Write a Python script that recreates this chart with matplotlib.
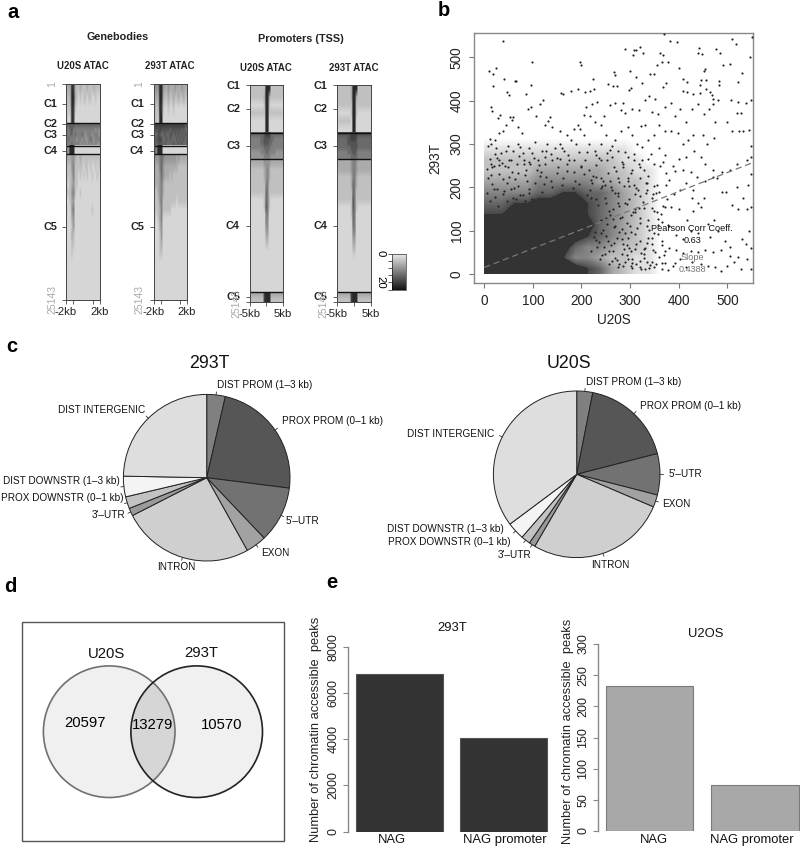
import numpy as np
import matplotlib
matplotlib.use("Agg")
import matplotlib.pyplot as plt
from matplotlib.colors import LinearSegmentedColormap, Normalize
from matplotlib.cm import ScalarMappable
from matplotlib.patches import Circle, Rectangle

plt.rcParams['font.family'] = ['Liberation Sans', 'DejaVu Sans']

W, H = 800, 851

# ---- panel a: ATAC signal, one digit per bin (digit x 2.5 = signal)
gene_row_edges = [1, 1100, 2300, 3500, 4579, 5100, 5600, 6100, 6600, 7217, 7700, 8187,
                  9200, 10200, 11200, 12200, 13200, 14200, 15200, 16200, 17200, 18200,
                  19200, 20200, 21200, 22200, 23200, 24200, 25143]
gene_u20s = ["33398322322232223222", "32399321212212211211", "22298211111111111111", "21198111111111111111",
             "76767666666666666666", "65675555555555555454", "65665655565455545554", "56555545545445654555",
             "55565555454545454544", "54999111111111111111", "54999111111111111111",
             "33344322322222222222", "22245222221221211212", "22235221212121121121", "21234221111111111111",
             "22245211211111111111", "11234111111111111111", "21145111111111121111", "11134111111111111111",
             "11124111111111111111", "11132111111111111111", "11122111111111111111", "11121111111111111111",
             "11111111111111111111", "11111111111111111111", "11111111111111111111", "11111111111111111111",
             "11111111111111111111"]
gene_293t = ["44499433433343334333", "33399322322322322322", "32298211211211111111", "22199111111111111111",
             "88888888888888888877", "77787777767777776766", "66776676677676767676", "67787667676667676766",
             "76777676666766767667", "65999111111111111111", "65999111111111111111",
             "44456544444443433333", "33356433333333222222", "33346433323222222222", "33345322222222222222",
             "22345322222222222222", "22245222222221222222", "22235222221111111111", "21235111111111111111",
             "11134111111111111111", "11124111111111111111", "11123111111111111111", "11122111111111111111",
             "11111111111111111111", "11111111111111111111", "11111111111111111111", "11111111111111111111",
             "11111111111111111111"]

prom_row_edges = [1, 916, 1832, 2748, 3664, 4580, 5493, 6010, 6525, 7040, 7555, 8070, 8587,
                  9445, 10300, 11160, 12015, 12870, 13730, 14590, 15445, 16300, 17160, 18015,
                  18870, 19730, 20590, 21445, 22300, 23160, 24021, 24580, 25143]
prom_u20s = ["22222222299922222222", "22222222399322222222", "11111111299211111111", "22222222299222222222",
             "11111111199111111111", "11111111199111111111",
             "66666666788866666666", "55555566777766555555", "55555566777665555555", "55555555666655555555",
             "44444455566555544444", "44444444555544444444",
             "33333333444433333333", "22222222345322222222", "22222222345322222222", "22222222255222222222",
             "22222222265222222222", "11111111265211111111", "11111111275211111111", "11111111155111111111",
             "11111111154111111111", "11111111144111111111", "11111111133111111111", "11111111122111111111",
             "11111111111111111111", "11111111111111111111", "11111111111111111111", "11111111111111111111",
             "11111111111111111111", "11111111111111111111",
             "33333333899933333333", "22222222899922222222"]
prom_293t = ["22222222399922222222", "22222222399322222222", "22222222299222222222", "11111111299211111111",
             "22222222199111111111", "11111111199111111111",
             "77777777888877777777", "66666677888766666666", "66666677777766666666", "66666666777766666666",
             "55555566677655555555", "55555555666655555555",
             "33333333455433333333", "33333333455433333333", "22222222355322222222", "22222222365322222222",
             "22222222265222222222", "22222222275222222222", "11111111275211111111", "11111111265111111111",
             "11111111165111111111", "11111111155111111111", "11111111144111111111", "11111111133111111111",
             "11111111122111111111", "11111111111111111111", "11111111111111111111", "11111111111111111111",
             "11111111111111111111", "11111111111111111111",
             "33333333899933333333", "22222222899922222222"]

gene_breaks = [4579, 7217, 8187]
prom_breaks = [5493, 8587, 24021]
gene_clusters = [("C1", 2300), ("C2", 4600), ("C3", 5950), ("C4", 7760), ("C5", 16700)]
prom_clusters = [("C1", 1), ("C2", 2750), ("C3", 7040), ("C4", 16330), ("C5", 24590)]

read_pairs = [
    (38,538),(99,489),(10,469),(25,476),(19,461),(40,450),(18,434),(46,419),(50,414),(63,446),(66,446),(86,415),(97,436),
    (13,385),(17,376),(32,367),(29,360),(53,363),(60,363),(58,355),(97,386),(90,382),(115,392),(120,401),(106,365),
    (132,354),(135,363),(157,418),(163,415),(178,423),(193,426),(207,421),(217,423),(226,426),(224,449),(197,490),(200,482),
    (255,438),(267,467),(269,459),(265,434),(274,434),(290,520),(306,505),(308,517),(313,518),(320,525),(327,509),(300,468),
    (312,454),(324,440),(341,461),(349,461),(355,482),(361,509),(367,505),(366,490),(379,490),(383,538),(396,536),(400,475),
    (375,440),(368,432),(409,450),(418,444),(409,423),(418,421),(442,521),(440,511),(449,508),(477,520),(486,511),(492,482),
    (505,484),(509,542),(517,532),(550,548),(547,500),(531,465),(523,444),(454,473),(452,469),(447,448),(457,448),(444,436),
    (457,428),(464,421),(468,413),(470,405),(471,392),(444,417),(430,415),(484,445),(484,436),(481,401),(507,401),(523,396),
    (538,395),(549,401),(370,555),(30,325),(22,310),(15,300),(12,312),(45,345),(38,330),(70,340),(78,325),(125,345),(140,340),
    (155,330),(170,320),(185,335),(192,345),(205,368),(217,365),(228,350),(240,345),(210,385),(222,392),(232,398),(247,365),
    (258,390),(270,395),(285,395),(298,425),(303,430),(281,378),(290,372),(305,380),(318,378),(331,402),(339,410),(352,405),
    (322,342),(330,345),(345,375),(358,370),(372,385),(385,395),(392,365),(402,380),(415,350),(428,380),(440,392),(452,370),
    (462,380),(475,350),(500,350),(510,330),(520,372),(529,372),(533,330),(524,330),(545,332),(549,295),(548,270),(540,262),
    (520,255),(505,240),(490,235),(478,222),(470,240),(455,255),(445,270),(432,285),(420,310),(408,300),(398,325),(385,330),
    (372,330),(360,345),(350,320),(338,310),(325,292),(315,300),(305,320),(295,340),(282,330),(270,310),(262,295),(250,320),
    (240,300),(228,285),(215,300),(205,320),(197,335),(188,300),(178,310),(165,285),(155,300),(145,290),(130,300),(118,285),
    (105,305),(92,290),(80,280),(70,300),(60,285),(48,295),(35,280),(25,290),(458,300),(472,315),(450,320),(430,320),(415,270),
    (400,265),(388,250),(372,275),(360,290),(350,255),(338,265),(328,240),(318,255),(304,240),(295,270),(285,255),(275,285),
    (262,270),(252,280),(240,262),(410,240),(425,235),(438,225),(455,215),(470,225),(490,190),(497,190),(520,200),(532,175),
    (542,205),(548,230),(510,160),(522,150),(540,150),(549,155),(473,125),(460,115),(445,155),(452,175),(440,165),(428,175),
    (430,145),(418,125),(400,150),(385,155),(372,155),(360,190),(345,175),(335,195),(320,180),(308,205),(295,215),(402,195),
    (415,210),(430,195),(375,205),(390,185),(350,145),(365,120),(380,110),(395,90),(410,80),(425,100),(440,95),(465,85),
    (480,100),(495,75),(530,80),(538,70),(545,100),(548,60),(505,62),(487,55),(470,50),(455,55),(440,50),(425,52),(410,48),
    (395,55),(380,60),(365,75),(350,95),(335,110),(320,130),(310,150),(300,110),(290,95),(330,60),(345,70),(312,70),(298,60),
    (285,70),(360,40),(372,25),(388,18),(402,35),(415,15),(428,28),(445,22),(460,18),(474,15),(488,8),(506,42),(514,28),(522,40),
    (528,12),(540,35),(549,12),(500,18),(350,15),(335,28),(320,15),(305,35),(290,28),(275,15),(262,30),(248,45),(232,62),
    (225,85),(240,95),(255,75),(270,110),(280,130),(265,150),(250,130),(235,160),(220,175),(290,165),(275,180),(260,200),
    (245,215),(230,225),(215,240),(200,250),(185,262),(170,255),(155,265),(140,262),(125,270),(110,262),(95,255),(82,262),
    (68,255),(55,262),(42,250),(30,262),(20,250),(12,265),
]
# the busier band around the overplotted core
band_pairs = [
    (8,296),(14,255),(22,278),(31,231),(44,284),(52,262),(63,219),(74,293),(86,241),(99,279),(112,252),(124,208),(137,276),
    (149,233),(161,291),(174,263),(187,214),(199,247),(211,282),(223,226),(236,268),(248,205),(259,286),(272,238),(283,259),
    (296,221),(309,276),(321,248),(333,210),(6,242),(17,208),(27,268),(38,219),(49,246),(61,199),(72,272),(84,229),(93,258),
    (104,211),(116,236),(128,284),(139,201),(151,246),(162,222),(173,274),(184,236),(196,207),(207,262),(219,216),(231,251),
    (243,203),(254,234),(266,246),(277,212),(289,281),(301,234),(313,198),(325,262),(337,226),(349,204),(361,250),(373,232),
    (7,222),(16,248),(26,196),(37,257),(47,211),(58,236),(69,203),(81,254),(92,197),(103,268),(114,226),(126,253),(138,214),
    (149,268),(160,205),(171,238),(183,199),(194,282),(206,231),(217,194),(229,274),(240,222),(252,262),(263,193),(275,222),
    (286,248),(298,203),(309,262),(321,222),(332,188),(344,276),(356,206),(368,258),(380,216),(392,238),(5,188),(13,229),
    (22,178),(31,252),(41,191),(50,223),(60,176),(69,232),(79,183),(88,215),(98,174),(108,241),(118,189),(127,224),
    (212,182),(221,209),(231,173),(240,198),(250,164),(259,214),(269,186),(278,158),(288,204),(297,172),(307,143),(316,194),
    (326,167),(335,211),(345,152),(354,186),(364,138),(376,172),(12,168),(20,196),(29,158),(38,184),(47,168),(56,196),(65,172),
    (74,182),(83,168),(92,186),(240,124),(248,176),(257,146),(266,108),(275,186),(284,132),(293,162),(302,98),(311,184),
    (320,118),(329,152),(338,84),(347,184),(357,112),(368,156),(250,88),(258,136),(267,72),(275,164),(284,104),(293,66),
    (302,136),(311,92),(319,152),(328,58),(337,124),(346,84),(356,142),(366,68),(378,112),(236,74),(244,102),(257,52),(265,128),
    (274,82),(284,46),(293,118),(302,54),(311,142),(320,76),(329,36),(339,102),(348,56),(358,126),(370,44),(228,96),(243,44),
    (252,116),(260,68),(269,36),(278,96),(287,58),(296,84),(305,26),(314,106),(323,48),(334,72),(345,28),(358,92),(372,52),
    (220,52),(229,78),(238,34),(247,62),(256,22),(265,54),(274,32),(283,80),(293,44),(302,18),(311,58),(320,30),(329,46),
    (340,14),(352,50),(366,26),(278,24),(286,18),(296,34),(304,14),(313,22),(322,12),(330,12),(342,20),(354,24),(366,12),
    (378,10),(392,26),
]
# rough darkness of the overplotted part, 25 x 25 bins, top row first; 6 and above is solid
overplot_bins = ["0000000000000000",
                 "1111111111110000",
                 "2222222222211000",
                 "2222333333221100",
                 "3333444443322100",
                 "4444556655432100",
                 "5566778865432100",
                 "6677899765432100",
                 "9999999875432100",
                 "9999999765432100",
                 "9999997544322100",
                 "9999986443221100",
                 "9999999765321100"]
fit_x = [0, 550]
fit_y = [15, 256]
slope_value = "0.4388"
corr_value = "0.63"

# ---- panel c: share of peaks per annotation, percent
pie_labels = ["DIST PROM (1\u20133 kb)", "PROX PROM (0\u20131 kb)", "5'\u2013UTR", "EXON", "INTRON",
              "3'\u2013UTR", "PROX DOWNSTR (0\u20131 kb)", "DIST DOWNSTR (1\u20133 kb)", "DIST INTERGENIC"]
pie_293t = [3.6, 23.4, 10.9, 4.0, 25.6, 1.5, 2.3, 4.0, 24.7]
pie_u20s = [3.1, 17.9, 8.0, 2.4, 27.0, 1.2, 1.8, 3.4, 35.2]
pie_colors = ["#808080", "#565656", "#727272", "#a2a2a2", "#cfcfcf", "#9a9a9a", "#c2c2c2", "#f4f4f4", "#dedede"]

# ---- panel d: peak overlap
venn_names = ["U20S", "293T"]
venn_counts = ["20597", "13279", "10570"]

# ---- panel e: NAG peak counts
bar_names = ["NAG", "NAG promoter"]
nag_293t = [6800, 4040]
nag_u20s = [233, 73]
ticks_293t = [0, 2000, 4000, 6000, 8000]
ticks_u20s = [0, 50, 100, 150, 200, 250, 300]

fig = plt.figure(figsize=(8, 8.51), dpi=100)
heat_cmap = LinearSegmentedColormap.from_list("heat", ["#ececec", "#141414"])


def px_axes(left, top, right, bottom):
    # axes placed by pixel box, y counted from the top of the figure
    return fig.add_axes([left / W, 1 - bottom / H, (right - left) / W, (bottom - top) / H])


def draw_heat(box, rows, edges, breaks, xticks, xlabels):
    ax = px_axes(*box)
    values = np.array([[int(c) * 2.5 for c in r] for r in rows])
    # each cluster gets its own image so smoothing stops at the cluster lines
    stops = [edges[0]] + breaks + [edges[-1]]
    for lo, hi in zip(stops[:-1], stops[1:]):
        i, j = edges.index(lo), edges.index(hi)
        ax.imshow(values[i:j], cmap=heat_cmap, vmin=0, vmax=25, aspect="auto",
                  interpolation="bilinear", extent=(0, 20, hi, lo))
    ax.set_ylim(edges[-1], edges[0])
    ax.set_xlim(0, 20)
    for b in breaks:
        ax.axhline(b, color="#111111", lw=1)
    for s in ax.spines.values():
        s.set_linewidth(0.7)
        s.set_color("#444444")
    ax.set_xticks(xticks)
    ax.set_xticklabels(xlabels, fontsize=8.2, color="#222222")
    ax.set_yticks([])
    ax.tick_params(axis="x", length=3.2, width=0.6, pad=1.5, color="#444444")
    return ax


gene_x = [0, 4.4, 16, 20]
gene_xl = ["-2kb", "", "", "2kb"]
prom_x = [0, 10, 20]
prom_xl = ["-5kb", "", "5kb"]
heat_axes = [
    (draw_heat((66, 84, 99.5, 300), gene_u20s, gene_row_edges, gene_breaks, gene_x, gene_xl), gene_clusters, 57.5, True),
    (draw_heat((153.5, 84, 187, 300), gene_293t, gene_row_edges, gene_breaks, gene_x, gene_xl), gene_clusters, 144, True),
    (draw_heat((249.5, 85.5, 283, 302), prom_u20s, prom_row_edges, prom_breaks, prom_x, prom_xl), prom_clusters, 240, False),
    (draw_heat((337, 85.5, 370.5, 302), prom_293t, prom_row_edges, prom_breaks, prom_x, prom_xl), prom_clusters, 327.5, False),
]
for ax, clusters, label_x, is_gene in heat_axes:
    ax.set_yticks([c[1] for c in clusters] + [25143] + ([1] if is_gene else []))
    ax.set_yticklabels([])
    ax.tick_params(axis="y", length=3.2, width=0.6, color="#444444")

cax = px_axes(392, 253.5, 406, 289.5)
cbar = fig.colorbar(ScalarMappable(Normalize(0, 25), heat_cmap), cax=cax)
cax.invert_yaxis()
cbar.set_ticks([0, 5, 10, 15, 20, 25])
cbar.set_ticklabels(["0", "", "", "", "20", ""])
cbar.outline.set_linewidth(0.4)
cax.yaxis.set_ticks_position("left")
cax.tick_params(length=3, width=0.6, pad=1.5, labelsize=8.2, color="#444444")
for t in cax.get_yticklabels():
    t.set_rotation(270)
    t.set_va("center")

# scatter: grey wash for the busy band, solid core on top, single genes as dots
ax_b = px_axes(474, 32.7, 753, 283.3)
bins = np.array([[int(c) for c in r] for r in overplot_bins], dtype=float)[::-1]
ax_b.imshow(bins, origin="lower", extent=(0, 400, 0, 325), aspect="auto",
            cmap=LinearSegmentedColormap.from_list("wash", ["#ffffff", "#484848"]), vmin=0, vmax=6,
            interpolation="bilinear", zorder=1)
# one extra row and column so the core reaches the axis zero lines
core = np.pad(bins, ((1, 0), (1, 0)), mode="edge")
core_x = np.r_[0, 12.5 + 25 * np.arange(bins.shape[1])]
core_y = np.r_[0, 12.5 + 25 * np.arange(bins.shape[0])]
ax_b.contourf(core_x, core_y, core, levels=[6, 10], colors=["#333333"], zorder=2)
band_u20s, band_293t = zip(*band_pairs)
ax_b.scatter(band_u20s, band_293t, s=2.4, c="#222222", linewidths=0, zorder=3)
read_u20s, read_293t = zip(*read_pairs)
ax_b.scatter(read_u20s, read_293t, s=2.4, c="#222222", linewidths=0, zorder=3)
ax_b.plot(fit_x, fit_y, color="#777777", lw=0.9, ls=(0, (5, 3)), zorder=4)
ax_b.set_xlim(-21, 553)
ax_b.set_ylim(-21.5, 557)
for s in ax_b.spines.values():
    s.set_color("#888888")
    s.set_linewidth(1)
ax_b.set_xticks([0, 100, 200, 300, 400, 500])
ax_b.set_yticks([0, 100, 200, 300, 400, 500])
ax_b.tick_params(length=3.5, width=0.8, color="#777777", labelsize=9.8, labelcolor="#222222", pad=4)
for t in ax_b.get_yticklabels():
    t.set_rotation(90)
    t.set_va("center")
ax_b.set_xlabel("U20S", fontsize=9.8, color="#222222", labelpad=3.5)
ax_b.set_ylabel("293T", fontsize=9.8, color="#222222", labelpad=5)
ax_b.text(428, 105, "Pearson Corr Coeff.", fontsize=6.6, color="#111111", ha="center", va="center", zorder=5)
ax_b.text(428, 78, corr_value, fontsize=6.6, color="#111111", ha="center", va="center", zorder=5)
ax_b.text(428, 38, "Slope", fontsize=6.6, color="#777777", ha="center", va="center", zorder=5)
ax_b.text(428, 11, slope_value, fontsize=6.6, color="#777777", ha="center", va="center", zorder=5)


# pies, drawn clockwise from twelve o'clock
def draw_pie(cx, cy, r, values):
    ax = px_axes(cx - r, cy - r, cx + r, cy + r)
    ax.pie(values, colors=pie_colors, startangle=90, counterclock=False, radius=1,
           wedgeprops=dict(edgecolor="#222222", linewidth=0.7))
    ax.set_xlim(-1, 1)
    ax.set_ylim(-1, 1)
    # short leader at the middle of each slice
    ends = np.cumsum(values) / np.sum(values) * 2 * np.pi
    mids = ends - np.array(values) / np.sum(values) * np.pi
    for a in mids:
        ax.plot([np.sin(a), 1.035 * np.sin(a)], [np.cos(a), 1.035 * np.cos(a)], color="#333333", lw=0.6, clip_on=False)


draw_pie(206.7, 477.7, 83.3, pie_293t)
draw_pie(576.7, 474.3, 83.3, pie_u20s)


# bars
def draw_bars(box, xlim, values, ticks, color, edge):
    ax = px_axes(*box)
    ax.bar([0.7, 1.9], values, width=1, color=color, edgecolor=edge, linewidth=0.8)
    ax.set_xlim(*xlim)
    ax.set_ylim(ticks[0], ticks[-1])
    for side in ["top", "right", "bottom"]:
        ax.spines[side].set_visible(False)
    ax.spines["left"].set_color("#888888")
    ax.spines["left"].set_linewidth(1)
    ax.set_xticks([])
    ax.set_yticks(ticks)
    ax.tick_params(length=3.3, width=0.8, color="#888888", labelsize=9, labelcolor="#222222", pad=3)
    for t in ax.get_yticklabels():
        t.set_rotation(90)
        t.set_va("center")


draw_bars((348.3, 646.7, 552, 831.7), (0.115, 2.46), nag_293t, ticks_293t, "#333333", "#555555")
draw_bars((598.3, 644, 800, 831), (0.116, 2.413), nag_u20s, ticks_u20s, "#a8a8a8", "#7a7a7a")

# everything placed directly in figure pixels: labels, venn diagram
over = fig.add_axes([0, 0, 1, 1], zorder=10)
over.set_xlim(0, W)
over.set_ylim(H, 0)
over.axis("off")
over.patch.set_visible(False)


def label(x, y, s, size=7.2, ha="center", rot=0, color="#111111", weight="normal"):
    over.text(x, y, s, fontsize=size, ha=ha, va="center", rotation=rot, color=color, fontweight=weight)


for x, y, s in [(13, 13, "a"), (444, 11, "b"), (12, 347, "c"), (10, 587, "d"), (332, 582, "e")]:
    label(x, y, s, size=14.5, weight="bold", color="#000000")

label(117.7, 37.3, "Genebodies", size=7.8, weight="bold", color="#222222")
label(301, 38.7, "Promoters (TSS)", size=7.8, weight="bold", color="#222222")
for x, y, s in [(82.7, 66.3, "U20S ATAC"), (170, 66.3, "293T ATAC"), (266, 67.7, "U20S ATAC"), (353.3, 67.7, "293T ATAC")]:
    label(x, y, s, size=6.9, weight="bold", color="#222222")

for ax, clusters, label_x, is_gene in heat_axes:
    top, height = (84, 216) if is_gene else (85.5, 216.5)
    for name, row in clusters:
        label(label_x, top + row / 25143 * height, name, size=7.8, ha="right", color="#222222", weight="semibold")
    if is_gene:
        label(label_x - 5, 300, "25143", size=7.5, rot=90, color="#aaaaaa")
        label(label_x - 5, 84, "1", size=7.5, rot=90, color="#aaaaaa")
    else:
        label(label_x - 4, 303, "25143", size=7.5, rot=90, color="#aaaaaa")

# pie captions
label(209, 364, "293T", size=12.8)
label(569, 364, "U20S", size=12.8)
pie_293t_text = [(217, 385, "left"), (282, 420.7, "left"), (285.7, 520.7, "left"), (260.7, 553.3, "left"), (157, 567.3, "left"),
                 (125, 515, "right"), (123.3, 498.3, "right"), (120, 480.7, "right"), (145.7, 410.3, "right")]
pie_u20s_text = [(586, 381.7, "left"), (640, 405.7, "left"), (668.3, 473.7, "left"), (662.3, 503.7, "left"), (590.7, 565, "left"),
                 (531.7, 555, "right"), (510.7, 541.7, "right"), (503.3, 529, "right"), (494.3, 434, "right")]
for name, (x, y, ha) in zip(pie_labels, pie_293t_text):
    label(x, y, name, ha=ha)
for name, (x, y, ha) in zip(pie_labels, pie_u20s_text):
    label(x, y, name, ha=ha)

# venn
over.add_patch(Rectangle((22.3, 621.7), 262, 219.3, fc="white", ec="#555555", lw=1))
left_c = Circle((109.2, 731.7), 65.8, fc="#f0f0f0", ec="none")
right_c = Circle((196.7, 731.7), 65.8, fc="#f0f0f0", ec="none")
over.add_patch(left_c)
over.add_patch(right_c)
overlap = Circle((196.7, 731.7), 65.8, fc="#d6d6d6", ec="none")
over.add_patch(overlap)
overlap.set_clip_path(Circle((109.2, 731.7), 65.8, transform=over.transData))
over.add_patch(Circle((109.2, 731.7), 65.8, fc="none", ec="#707070", lw=1.2))
over.add_patch(Circle((196.7, 731.7), 65.8, fc="none", ec="#222222", lw=1.2))
label(106.7, 654.3, venn_names[0], size=10.7)
label(201.7, 653.3, venn_names[1], size=10.7)
label(85, 723.3, venn_counts[0], size=10.7, color="#000000")
label(152.7, 725, venn_counts[1], size=10.7, color="#000000")
label(221.7, 725, venn_counts[2], size=10.7, color="#000000")

# bar captions
label(452, 628, "293T", size=9.4)
label(706, 634, "U2OS", size=9.4)
label(392, 840, bar_names[0], size=9.4)
label(505, 840, bar_names[1], size=9.4)
label(654, 840, bar_names[0], size=9.4)
label(752.3, 840, bar_names[1], size=9.4)
peak_title = "Number of chromatin accessible  peaks"
label(316, 729, peak_title, size=9.3, rot=90, color="#222222")
label(568, 731, peak_title, size=9.3, rot=90, color="#222222")

fig.savefig("out.png", dpi=100)
